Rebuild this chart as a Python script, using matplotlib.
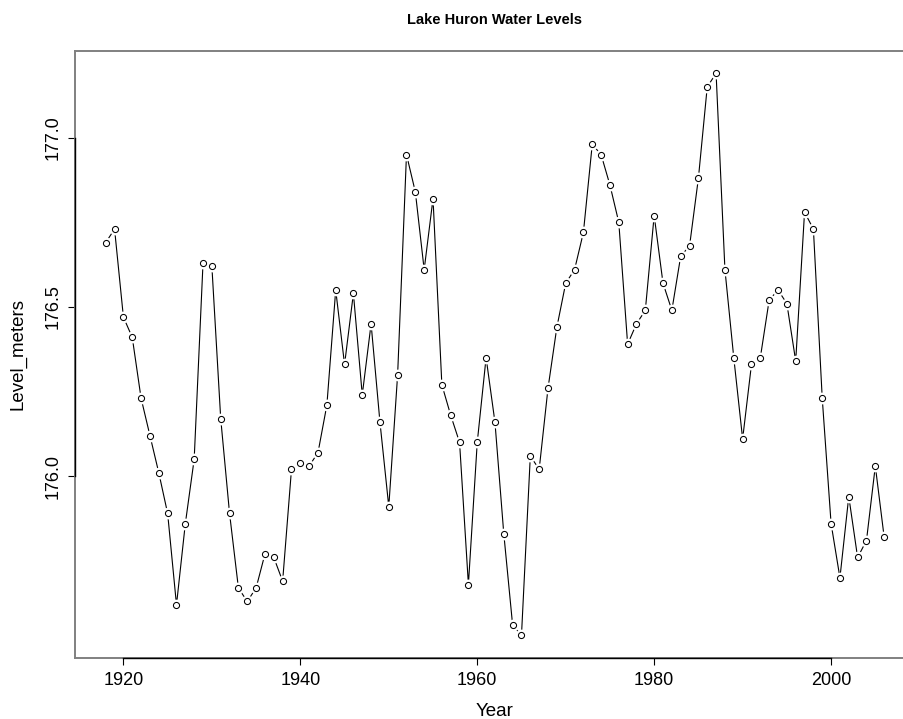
import matplotlib

matplotlib.use("Agg")
import matplotlib.pyplot as plt
import numpy as np

years = list(range(1918, 2007))
level_meters = [
    176.69, 176.73, 176.47, 176.41, 176.23, 176.12, 176.01, 175.89, 175.62, 175.86,
    176.05, 176.63, 176.62, 176.17, 175.89, 175.67, 175.63, 175.67, 175.77, 175.76,
    175.69, 176.02, 176.04, 176.03, 176.07, 176.21, 176.55, 176.33, 176.54, 176.24,
    176.45, 176.16, 175.91, 176.30, 176.95, 176.84, 176.61, 176.82, 176.27, 176.18,
    176.10, 175.68, 176.10, 176.35, 176.16, 175.83, 175.56, 175.53, 176.06, 176.02,
    176.26, 176.44, 176.57, 176.61, 176.72, 176.98, 176.95, 176.86, 176.75, 176.39,
    176.45, 176.49, 176.77, 176.57, 176.49, 176.65, 176.68, 176.88, 177.15, 177.19,
    176.61, 176.35, 176.11, 176.33, 176.35, 176.52, 176.55, 176.51, 176.34, 176.78,
    176.73, 176.23, 175.86, 175.70, 175.94, 175.76, 175.81, 176.03, 175.82,
]
x_ticks = [1920, 1940, 1960, 1980, 2000]
y_ticks = [176.0, 176.5, 177.0]
y_tick_labels = ["176.0", "176.5", "177.0"]

plt.rcParams["font.family"] = ["Liberation Sans", "DejaVu Sans"]

x = np.array(years, dtype=float)
y = np.array(level_meters)


def padded(values, frac=0.04):
    lo, hi = values.min(), values.max()
    pad = (hi - lo) * frac
    return lo - pad, hi + pad


fig = plt.figure(figsize=(9.04, 7.19), dpi=100)
# the box runs past the right edge of the picture, as in the reference
ax = fig.add_axes([0.0825, 0.0851, 0.930, 0.8442])

ax.plot(x, y, color="black", linewidth=0.8, zorder=2)
ax.plot(x, y, linestyle="none", marker="o", markersize=8.5,
        markerfacecolor="white", markeredgecolor="none", zorder=3)
ax.plot(x, y, linestyle="none", marker="o", markersize=4.4,
        markerfacecolor="white", markeredgecolor="black",
        markeredgewidth=0.75, zorder=4)

xlim = padded(x)
ylim = padded(y)
ax.set_xlim(*xlim)
ax.set_ylim(*ylim)

for spine in ax.spines.values():
    spine.set_color("#808080")
    spine.set_linewidth(1.4)

# black axis lines between first and last ticks (R style)
ax.plot([x_ticks[0], x_ticks[-1]], [ylim[0], ylim[0]], color="black",
        linewidth=1.0, clip_on=False, zorder=5)
ax.plot([xlim[0], xlim[0]], [y_ticks[0], y_ticks[-1]], color="black",
        linewidth=1.0, clip_on=False, zorder=5)

ax.set_xticks(x_ticks)
ax.set_xticklabels([str(t) for t in x_ticks])
ax.set_yticks(y_ticks)
ax.set_yticklabels(y_tick_labels, rotation=90, va="center")
ax.tick_params(direction="out", length=5, width=0.8, color="black",
               labelsize=13, pad=5.5)
ax.tick_params(axis="y", pad=4.5)

ax.set_xlabel("Year", fontsize=13.5)
ax.set_ylabel("Level_meters", fontsize=13.5)
ax.xaxis.set_label_coords(0.5, -0.075)
ax.yaxis.set_label_coords(-0.057, 0.5)

ax.set_title("Lake Huron Water Levels", fontsize=10.5, fontweight="bold", pad=19)

fig.savefig("out.png", dpi=100)
plt.close(fig)
